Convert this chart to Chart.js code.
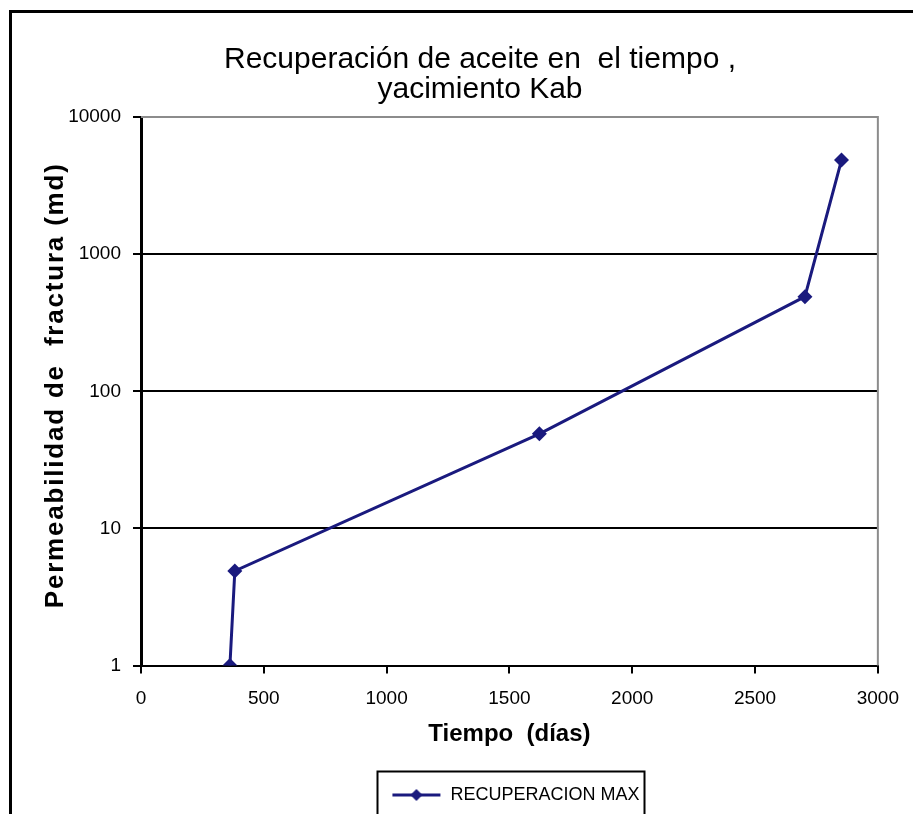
<!DOCTYPE html>
<html><head><meta charset="utf-8">
<script src="https://cdn.jsdelivr.net/npm/chart.js@4.4.0/dist/chart.umd.min.js"></script>
<style>html,body{margin:0;padding:0;background:#fff}#wrap{width:913px;height:814px;position:relative}</style>
</head><body><div id="wrap"><canvas id="c" width="913" height="814"></canvas></div>
<script>
const titleLines = ['Recuperación de aceite en  el tiempo ,', 'yacimiento Kab'];
const xTitle = 'Tiempo  (días)';
const yTitle = 'Permeabilidad de  fractura (md)';
const seriesName = 'RECUPERACION MAX';
const tiempo = [362, 382, 1622, 2703, 2852];
const permeabilidad = [1, 4.9, 49, 490, 4850];
const yTicks = [1, 10, 100, 1000, 10000];
const xMin = 0, xMax = 3000, xStep = 500;

const LINE_COLOR = '#1a1a7e';
const FONT = '"Liberation Sans", Arial, sans-serif';

// legend marker: line with diamond
const marker = document.createElement('canvas');
marker.width = 50; marker.height = 14;
(function(){
  const m = marker.getContext('2d');
  m.strokeStyle = LINE_COLOR; m.lineWidth = 3;
  m.beginPath(); m.moveTo(1, 7); m.lineTo(49, 7); m.stroke();
  m.fillStyle = LINE_COLOR;
  m.beginPath(); m.moveTo(25, 1); m.lineTo(31, 7); m.lineTo(25, 13); m.lineTo(19, 7); m.closePath(); m.fill();
})();

const decor = {
  id: 'decor',
  afterLayout(chart) {
    const lg = chart.legend;
    if (lg) { lg.left += 6; lg.right += 6; }
  },
  beforeDraw(chart) {
    const ctx = chart.ctx;
    ctx.save();
    ctx.fillStyle = '#fff';
    ctx.fillRect(0, 0, chart.width, chart.height);
    ctx.strokeStyle = '#000';
    ctx.lineWidth = 3;
    ctx.strokeRect(10.5, 11.5, 920, 820);
    ctx.restore();
  },
  beforeDatasetsDraw(chart) {
    const {ctx, chartArea: a} = chart;
    ctx.save();
    ctx.strokeStyle = '#8c8c8c';
    ctx.lineWidth = 2;
    ctx.beginPath();
    ctx.moveTo(a.left, a.top); ctx.lineTo(a.right, a.top); ctx.lineTo(a.right, a.bottom);
    ctx.stroke();
    ctx.restore();
  },
  afterDraw(chart) {
    const ctx = chart.ctx;
    const a = chart.chartArea;
    ctx.save();
    ctx.fillStyle = '#000';
    ctx.font = '30px ' + FONT;
    ctx.textAlign = 'center';
    ctx.textBaseline = 'alphabetic';
    ctx.fillText(titleLines[0], 480, 68);
    ctx.fillText(titleLines[1], 480, 98);
    // y axis title (rotated)
    ctx.save();
    ctx.translate(56, (a.top + a.bottom) / 2 - 6);
    ctx.rotate(-Math.PI / 2);
    ctx.font = 'bold 26px ' + FONT;
    ctx.letterSpacing = '1.8px';
    ctx.textAlign = 'center';
    ctx.textBaseline = 'middle';
    ctx.fillText(yTitle, 0, 0);
    ctx.restore();
    const lg = chart.legend;
    if (lg && lg.legendHitBoxes && lg.legendHitBoxes.length) {
      const hb = lg.legendHitBoxes[0];
      const cy = hb.top + hb.height / 2;
      ctx.strokeStyle = '#000';
      ctx.lineWidth = 2;
      ctx.strokeRect(Math.round(hb.left) - 14 + 0.5, Math.round(cy) - 24 + 0.5, Math.round(hb.width) + 19, 46);
    }
    ctx.restore();
  }
};

new Chart(document.getElementById('c'), {
  type: 'scatter',
  data: {
    datasets: [{
      label: seriesName,
      data: tiempo.map((t, i) => ({x: t, y: permeabilidad[i]})),
      showLine: true,
      borderColor: LINE_COLOR,
      backgroundColor: LINE_COLOR,
      borderWidth: 3,
      pointStyle: 'rectRot',
      pointRadius: 7.5,
      pointBorderWidth: 0,
      tension: 0
    }]
  },
  options: {
    responsive: false,
    devicePixelRatio: 1,
    animation: false,
    layout: { padding: { top: 117, left: 10, right: 30, bottom: 0 } },
    plugins: {
      title: { display: false },
      tooltip: { enabled: false },
      legend: {
        position: 'bottom',
        fullSize: false,
        labels: {
          color: '#000',
          font: { family: FONT, size: 18 },
          usePointStyle: true,
          pointStyleWidth: 50,
          padding: 10,
          generateLabels: () => [{
            text: seriesName, pointStyle: marker, fillStyle: LINE_COLOR,
            strokeStyle: LINE_COLOR, lineWidth: 0, hidden: false, datasetIndex: 0, fontColor: '#000'
          }]
        }
      }
    },
    scales: {
      x: {
        type: 'linear',
        min: xMin, max: xMax,
        afterFit(s) { s.height = 110.4; },
        ticks: { stepSize: xStep, color: '#000', font: { family: FONT, size: 19 }, padding: 14, maxRotation: 0, callback: v => String(v) },
        grid: { drawOnChartArea: false, drawTicks: true, tickLength: 8, color: '#000', lineWidth: 2 },
        border: { color: '#000', width: 2 },
        title: { display: true, text: xTitle, color: '#000', font: { family: FONT, size: 24, weight: 'bold' }, padding: { top: 0, bottom: 27 } }
      },
      y: {
        type: 'logarithmic',
        min: yTicks[0], max: yTicks[yTicks.length - 1],
        afterFit(s) { s.width = 131; },
        afterBuildTicks(s) { s.ticks = yTicks.map(v => ({ value: v })); },
        ticks: { color: '#000', font: { family: FONT, size: 19 }, padding: 12, callback: v => String(v) },
        grid: {
          drawTicks: true, tickLength: 8, lineWidth: 2, tickColor: '#000',
          color: c => (c.tick && c.tick.value === yTicks[yTicks.length - 1]) ? 'rgba(0,0,0,0)' : '#000'
        },
        border: { color: '#000', width: 3 },
        title: { display: false, text: yTitle }
      }
    }
  },
  plugins: [decor]
});
</script>
</body></html>
